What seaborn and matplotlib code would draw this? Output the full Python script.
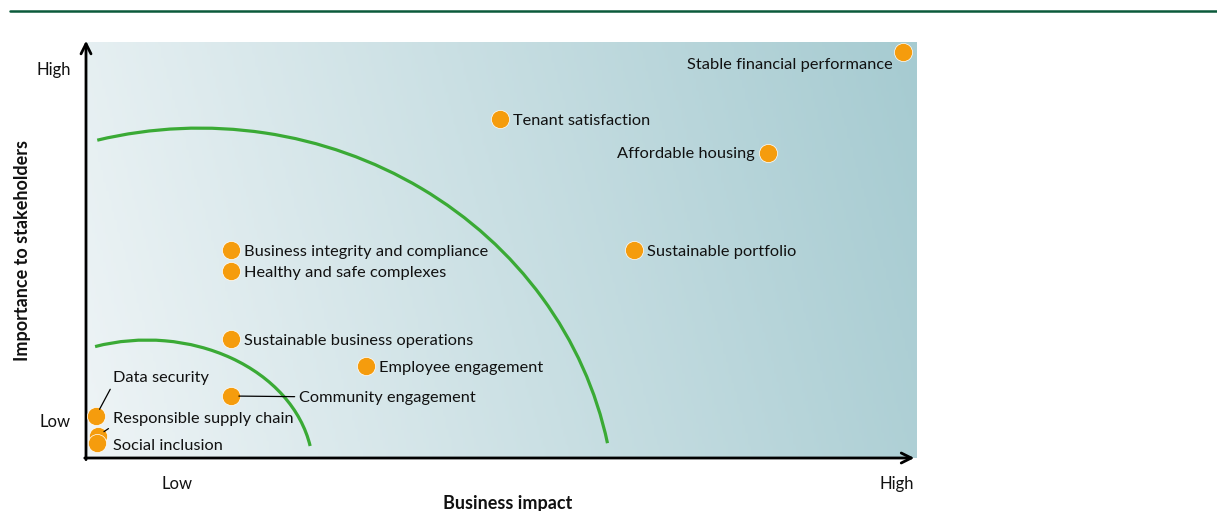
import numpy as np
import pandas as pd
import seaborn as sns
import matplotlib.pyplot as plt
from matplotlib.patches import Arc
from matplotlib.colors import LinearSegmentedColormap
from matplotlib.lines import Line2D

# topics and their position on the matrix (0-100 scale)
topics = ["Stable financial performance", "Tenant satisfaction", "Affordable housing",
          "Sustainable portfolio", "Business integrity and compliance",
          "Healthy and safe complexes", "Sustainable business operations",
          "Employee engagement", "Community engagement", "Data security",
          "Responsible supply chain", "Social inclusion"]
impact = [98.4, 49.9, 82.2, 66.0, 17.5, 17.5, 17.5, 33.7, 17.5, 1.2, 1.4, 1.3]
importance = [97.6, 81.5, 73.3, 50.0, 50.0, 45.0, 28.6, 22.1, 14.9, 10.1, 5.3, 3.6]

x_ticklabels = ["Low", "High"]
y_ticklabels = ["Low", "High"]

df = pd.DataFrame({"topic": topics, "impact": impact, "importance": importance})

sns.set_theme(style="white")
plt.rcParams["font.family"] = ["Lato", "DejaVu Sans"]

fig = plt.figure(figsize=(12.17, 5.11), dpi=100)
ax = fig.add_axes([86 / 1217, 53 / 511, 830 / 1217, 416 / 511])
ax.set_xlim(0, 100)
ax.set_ylim(0, 100)

# background gradient
cmap = LinearSegmentedColormap.from_list("bg", ["#eef4f6", "#a6cbd1"])
gx, gy = np.meshgrid(np.linspace(0, 1, 300), np.linspace(0, 1, 100))
ax.imshow(0.88 * gx + 0.12 * gy, cmap=cmap, extent=[0, 100, 0, 100], origin="lower",
          aspect="auto", zorder=0, vmin=0, vmax=1)

# materiality boundaries
green = "#3aaa35"
ax.add_patch(Arc((13.7, -14.9), 100.2, 188.4, theta1=20.6, theta2=97.7, color=green, lw=2.3, zorder=2))
ax.add_patch(Arc((7.35, -2.9), 40.0, 62.5, theta1=16.4, theta2=101.9, color=green, lw=2.3, zorder=2))

sns.scatterplot(data=df, x="impact", y="importance", s=170, color="#f59c0d",
                edgecolor="white", linewidth=0.5, zorder=4, ax=ax, clip_on=False)

# label offsets (points) and alignment
label_style = {
    "Stable financial performance": ((-7.5, -9.5), "right", None),
    "Affordable housing": ((-9.5, -1), "right", None),
    "Data security": ((12, 27.5), "left", (0, 0)),
    "Responsible supply chain": ((11, 12.5), "left", (0, 0)),
    "Social inclusion": ((12, -2), "left", None),
    "Community engagement": ((49, -1.5), "left", (0, 0.6)),
}
for t, xv, yv in zip(topics, impact, importance):
    off, ha, rel = label_style.get(t, ((9.5, -1.5), "left", None))
    kw = {}
    if rel is not None:
        kw["arrowprops"] = dict(arrowstyle="-", color="black", lw=0.9, relpos=rel,
                                shrinkA=1, shrinkB=5.5)
    ax.annotate(t, (xv, yv), xytext=off, textcoords="offset points", ha=ha, va="center",
                fontsize=11.8, color="#111111", zorder=5, **kw)

# axes as arrows
for s in ax.spines.values():
    s.set_visible(False)
ax.annotate("", xy=(0, 100.3), xytext=(0, -0.4), annotation_clip=False,
            arrowprops=dict(arrowstyle="->", lw=2, color="black", mutation_scale=18, shrinkA=0, shrinkB=0))
ax.annotate("", xy=(99.8, 0), xytext=(-0.15, 0), annotation_clip=False,
            arrowprops=dict(arrowstyle="->", lw=2, color="black", mutation_scale=18, shrinkA=0, shrinkB=0))

ax.set_xticks([11.0, 97.7], x_ticklabels)
ax.set_yticks([9.1, 93.75], y_ticklabels)
ax.tick_params(length=0, labelsize=12, labelcolor="#111111")
ax.tick_params(axis="x", pad=13)
ax.tick_params(axis="y", pad=11)
ax.set_xlabel("Business impact", fontsize=13, fontweight="bold", color="#111111")
ax.set_ylabel("Importance to stakeholders", fontsize=13, fontweight="bold", color="#111111")
ax.xaxis.set_label_coords(0.508, -0.09)
ax.yaxis.set_label_coords(-0.066, 0.5)

# top rule
fig.add_artist(Line2D([10 / 1217, 1.0], [1 - 11 / 511, 1 - 11 / 511], color="#0b5a3b", lw=1.8))

fig.savefig("out.png", dpi=100)
